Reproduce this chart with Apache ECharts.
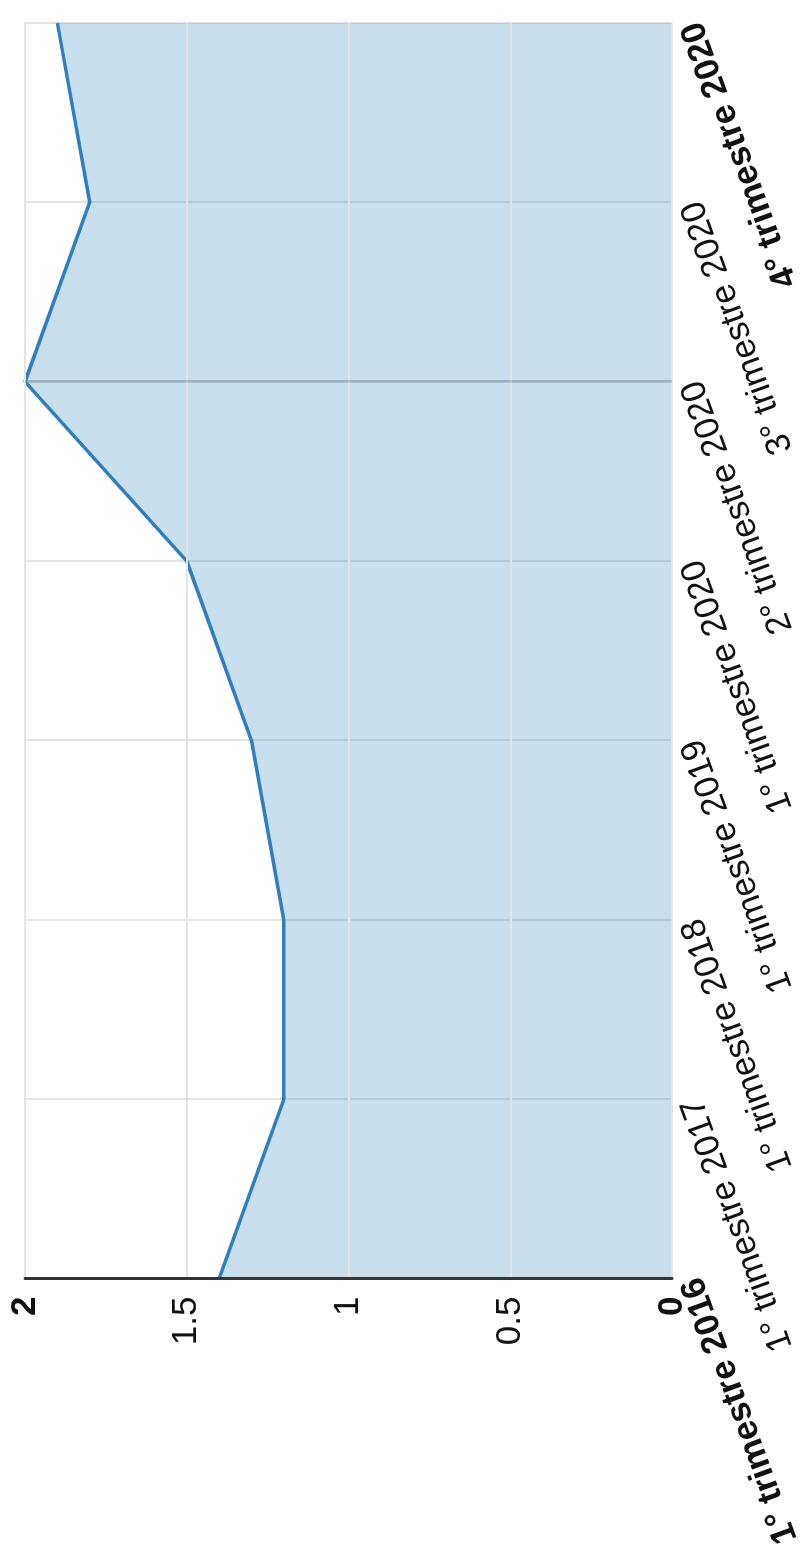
<!doctype html>
<html>
<head>
  <meta charset="utf-8">
  <title>Trimestre</title>
  <script src="https://cdn.jsdelivr.net/npm/echarts/dist/echarts.min.js"></script>
  <style>
    html, body { margin: 0; padding: 0; background: #fff; overflow: hidden; }
    body { width: 807px; height: 1551px; position: relative; }
    /* chart is drawn lying down, then turned a quarter */
    #chart {
      position: absolute; left: 0; top: 0;
      width: 1551px; height: 807px;
      transform-origin: 0 0;
      transform: translateY(1551px) rotate(-90deg);
    }
  </style>
</head>
<body>
<div id="chart"></div>
<script type="text/javascript">
  var categories = ['1° trimestre 2016', '1° trimestre 2017', '1° trimestre 2018', '1° trimestre 2019',
                    '1° trimestre 2020', '2° trimestre 2020', '3° trimestre 2020', '4° trimestre 2020'];
  var values = [1.4, 1.2, 1.2, 1.3, 1.5, 2.0, 1.8, 1.9];
  var valueTicks = [0, 0.5, 1, 1.5, 2];
  var highlightCat = '2° trimestre 2020';

  var font = '"Liberation Sans", Arial, Helvetica, sans-serif';
  var chart = echarts.init(document.getElementById('chart'), null, {renderer: 'canvas'});

  var option = {
    animation: false,
    grid: { left: 264, right: 23, top: 25, bottom: 135, containLabel: false },
    xAxis: {
      type: 'category',
      data: categories,
      boundaryGap: false,
      axisLine: { show: false },
      axisTick: { show: false },
      splitLine: { show: true, lineStyle: { color: '#e4e4e4', width: 2 } },
      axisLabel: {
        rotate: 20,
        margin: 20,
        fontFamily: font,
        fontSize: 35,
        color: '#111',
        interval: 0,
        formatter: function (v, i) {
          if (i === 0 || i === categories.length - 1) return '{b|' + v + '}';
          return v;
        },
        rich: { b: { fontFamily: font, fontSize: 35, fontWeight: 'bold', color: '#111' } }
      }
    },
    yAxis: {
      type: 'value',
      min: valueTicks[0],
      max: valueTicks[valueTicks.length - 1],
      interval: 0.5,
      z: 5,
      axisLine: { show: true, lineStyle: { color: '#333', width: 3 } },
      axisTick: { show: false },
      splitLine: { show: true, lineStyle: { color: '#e4e4e4', width: 2 } },
      axisLabel: {
        margin: 18,
        fontFamily: font,
        fontSize: 35,
        color: '#111',
        formatter: function (v) {
          if (v === valueTicks[0] || v === valueTicks[valueTicks.length - 1]) return '{b|' + v + '}';
          return String(v);
        },
        rich: { b: { fontFamily: font, fontSize: 35, fontWeight: 'bold', color: '#111' } }
      }
    },
    series: [{
      type: 'line',
      data: values,
      symbol: 'none',
      lineStyle: { color: '#2f7fc0', width: 3.5 },
      areaStyle: { color: '#3182bd', opacity: 0.26 },
      markLine: {
        silent: true,
        symbol: 'none',
        label: { show: false },
        lineStyle: { color: 'rgba(110,125,140,0.35)', width: 3, type: 'solid' },
        data: [{ xAxis: highlightCat }]
      }
    }]
  };
  chart.setOption(option);
</script>
</body>
</html>
